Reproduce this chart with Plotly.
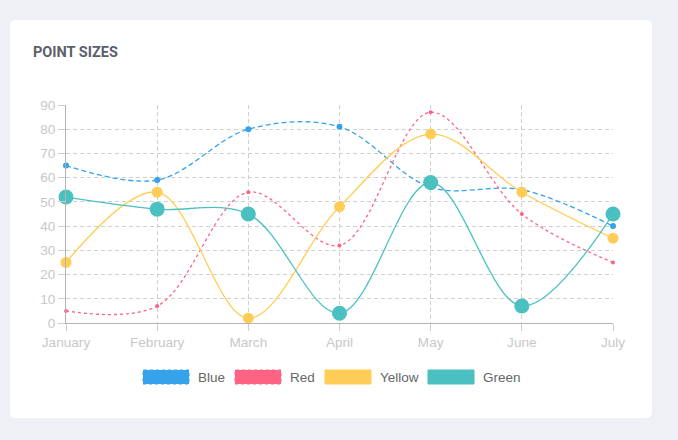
import plotly.graph_objects as go

months = ["January", "February", "March", "April", "May", "June", "July"]
blue = [65, 59, 80, 81, 56, 55, 40]
red = [5, 7, 54, 32, 87, 45, 25]
yellow = [25, 54, 2, 48, 78, 54, 35]
green = [52, 47, 45, 4, 58, 7, 45]
series_names = ["Blue", "Red", "Yellow", "Green"]
y_ticks = list(range(0, 100, 10))

W, H = 678, 440
L, R, T, B = 66, 65, 105, 117
pw, ph = W - L - R, H - T - B


def px(x):
    return (x - L) / pw


def py(y):
    return (H - B - y) / ph


colors = {"Blue": "#36a2eb", "Red": "#ff6384", "Yellow": "#ffcd56", "Green": "#4bc0c0"}
styles = {
    "Blue": dict(dash="5px,3px", size=6),
    "Red": dict(dash="3px,3px", size=4),
    "Yellow": dict(dash="solid", size=11),
    "Green": dict(dash="solid", size=15),
}
data = {"Blue": blue, "Red": red, "Yellow": yellow, "Green": green}

fig = go.Figure()
for name in series_names:
    c = colors[name]
    fig.add_trace(go.Scatter(
        x=list(range(len(months))), y=data[name], name=name, mode="lines+markers",
        line=dict(color=c, width=1.3, shape="spline", smoothing=1.0, dash=styles[name]["dash"]),
        marker=dict(color=c, size=styles[name]["size"], line=dict(width=0)),
        cliponaxis=False, showlegend=False, hoverinfo="skip",
    ))

shapes = []
# card background
x0, x1, y0, y1 = px(10), px(652), py(20), py(418)
rx, ry = 6 / pw, 6 / ph
path = (f"M {x0+rx},{y0} L {x1-rx},{y0} Q {x1},{y0} {x1},{y0-ry} "
        f"L {x1},{y1+ry} Q {x1},{y1} {x1-rx},{y1} L {x0+rx},{y1} Q {x0},{y1} {x0},{y1+ry} "
        f"L {x0},{y0-ry} Q {x0},{y0} {x0+rx},{y0} Z")
shapes.append(dict(type="path", xref="paper", yref="paper", path=path,
                   fillcolor="white", line=dict(width=0), layer="below"))

# legend
legend_pos = {"Blue": 143, "Red": 235, "Yellow": 325, "Green": 428}
annotations = []
for name in series_names:
    bx = legend_pos[name]
    c = colors[name]
    dash = "dot" if name in ("Blue", "Red") else "solid"
    shapes.append(dict(type="rect", xref="paper", yref="paper",
                       x0=px(bx), x1=px(bx + 46), y0=py(384), y1=py(370),
                       fillcolor=c, line=dict(color=c, width=1, dash=dash)))
    annotations.append(dict(xref="paper", yref="paper", x=px(bx + 53), y=py(377),
                            text=name, showarrow=False, xanchor="left", yanchor="middle",
                            font=dict(family="Liberation Sans, Arial", size=13.5, color="#666666")))

grid = "#cfcfcf"
axis_common = dict(
    showgrid=True, gridcolor=grid, griddash="4px,3px", gridwidth=1,
    showline=True, linecolor="#b3b3b3", linewidth=1,
    ticks="outside", ticklen=7, tickcolor=grid, tickwidth=1,
    tickfont=dict(family="Liberation Sans, Arial", size=13.6, color="#c8c8c8"),
    zeroline=False, fixedrange=True,
)
fig.update_layout(
    width=W, height=H,
    margin=dict(l=L, r=R, t=T, b=B),
    paper_bgcolor="#eef0f5", plot_bgcolor="rgba(0,0,0,0)",
    title=dict(text="<b>POINT SIZES</b>", x=33 / W, y=1 - 52 / H, xanchor="left", yanchor="middle",
               xref="container", yref="container",
               font=dict(family="Roboto, Liberation Sans", size=14.5, color="#5b5f6d")),
    shapes=shapes, annotations=annotations,
    showlegend=False,
    xaxis=dict(range=[0, 6], tickmode="array", tickvals=list(range(len(months))), ticktext=months,
               **axis_common),
    yaxis=dict(range=[0, 90], tickmode="array", tickvals=y_ticks, **axis_common),
)

fig.write_html("out.html", config={"displayModeBar": False},
               post_script="document.body.style.margin='0';document.body.style.background='#eef0f5';")
